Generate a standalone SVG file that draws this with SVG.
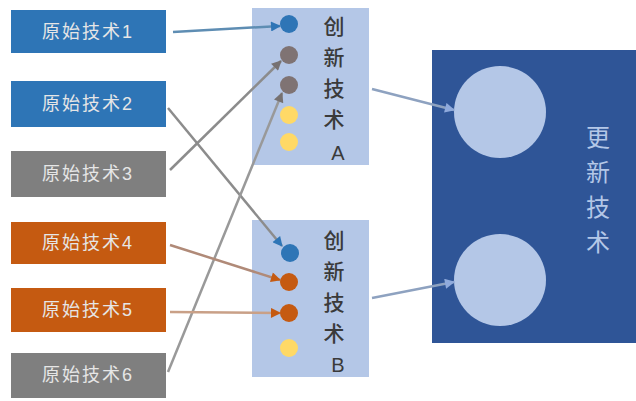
<svg xmlns="http://www.w3.org/2000/svg" width="636" height="401" viewBox="0 0 636 401">
<defs>
<style>
.blue{fill:#2E75B6}
.gray{fill:#7F7F7F}
.orange{fill:#C55A11}
.lbl{font-family:"Liberation Sans","Noto Sans CJK SC",sans-serif;font-size:18px;fill:#E6E6E6;text-anchor:middle;letter-spacing:2px}
.inno{fill:#B4C7E7}
.vt{font-family:"Noto Sans CJK SC","Liberation Sans",sans-serif;font-size:21px;font-weight:500;fill:#3A3A3A;text-anchor:middle}
.lat{font-family:"Liberation Sans",sans-serif;font-size:20px;fill:#3A3A3A;text-anchor:middle}
.vt2{font-family:"Noto Sans CJK SC","Liberation Sans",sans-serif;font-size:24px;fill:#B4C7E7;text-anchor:middle}
.ln{fill:none;stroke-width:2.5}
</style>
<marker id="mb" viewBox="0 0 10 10" refX="9" refY="5" markerWidth="5" markerHeight="4" orient="auto" markerUnits="strokeWidth"><path d="M0,0 L10,5 L0,10 Z" fill="#2E75B6"/></marker>
<marker id="mg" viewBox="0 0 10 10" refX="9" refY="5" markerWidth="5" markerHeight="4" orient="auto" markerUnits="strokeWidth"><path d="M0,0 L10,5 L0,10 Z" fill="#767171"/></marker>
<marker id="mo" viewBox="0 0 10 10" refX="9" refY="5" markerWidth="5" markerHeight="4" orient="auto" markerUnits="strokeWidth"><path d="M0,0 L10,5 L0,10 Z" fill="#C55A11"/></marker>
<marker id="ms" viewBox="0 0 10 10" refX="9" refY="5" markerWidth="5" markerHeight="4" orient="auto" markerUnits="strokeWidth"><path d="M0,0 L10,5 L0,10 Z" fill="#8FAADC"/></marker>
</defs>
<rect width="636" height="401" fill="#FFFFFF"/>

<g id="update">
<rect x="432" y="50" width="204" height="293" fill="#2F5597"/>
<circle cx="500" cy="112" r="46" fill="#B4C7E7"/>
<circle cx="500" cy="280" r="46" fill="#B4C7E7"/>
<text class="vt2" x="598" y="146">更</text>
<text class="vt2" x="598" y="181">新</text>
<text class="vt2" x="598" y="216">技</text>
<text class="vt2" x="598" y="251">术</text>
</g>

<g id="innoA">
<rect class="inno" x="252" y="8" width="117" height="157"/>
<circle cx="289" cy="24" r="9" fill="#2E75B6"/>
<circle cx="289" cy="55" r="9" fill="#7F7373"/>
<circle cx="289" cy="85" r="9" fill="#7F7373"/>
<circle cx="289" cy="115" r="9" fill="#FFD966"/>
<circle cx="289" cy="142" r="9" fill="#FFD966"/>
<text class="vt" x="334" y="34">创</text>
<text class="vt" x="334" y="65">新</text>
<text class="vt" x="334" y="96">技</text>
<text class="vt" x="334" y="127">术</text>
<text class="lat" x="338" y="160">A</text>
</g>

<g id="innoB">
<rect class="inno" x="252" y="220" width="117" height="157"/>
<circle cx="290" cy="253" r="9" fill="#2E75B6"/>
<circle cx="289" cy="282" r="9" fill="#C55A11"/>
<circle cx="289" cy="313" r="9" fill="#C55A11"/>
<circle cx="289" cy="348" r="9" fill="#FFD966"/>
<text class="vt" x="334" y="248">创</text>
<text class="vt" x="334" y="279">新</text>
<text class="vt" x="334" y="310">技</text>
<text class="vt" x="334" y="341">术</text>
<text class="lat" x="338" y="372">B</text>
</g>

<g id="src1"><rect class="blue" x="11" y="10" width="155" height="43"/><text class="lbl" x="88" y="38">原始技术1</text></g>
<g id="src2"><rect class="blue" x="11" y="81" width="155" height="46"/><text class="lbl" x="88" y="110">原始技术2</text></g>
<g id="src3"><rect class="gray" x="11" y="151" width="155" height="46"/><text class="lbl" x="88" y="180">原始技术3</text></g>
<g id="src4"><rect class="orange" x="11" y="222" width="155" height="42"/><text class="lbl" x="88" y="249">原始技术4</text></g>
<g id="src5"><rect class="orange" x="11" y="288" width="155" height="44"/><text class="lbl" x="88" y="316">原始技术5</text></g>
<g id="src6"><rect class="gray" x="11" y="353" width="155" height="45"/><text class="lbl" x="88" y="381">原始技术6</text></g>

<g id="connectors">
<line class="ln" x1="173" y1="32" x2="280" y2="26" stroke="#5E8DB3" marker-end="url(#mb)"/>
<line class="ln" x1="168" y1="108" x2="282" y2="246" stroke="#8C8C8C" marker-end="url(#mb)"/>
<line class="ln" x1="170" y1="170" x2="281" y2="61" stroke="#8C8C8C" marker-end="url(#mg)"/>
<line class="ln" x1="168" y1="372" x2="282" y2="93" stroke="#999999" stroke-width="2" marker-end="url(#mg)"/>
<line class="ln" x1="170" y1="245" x2="280" y2="280" stroke="#B08A78" marker-end="url(#mo)"/>
<line class="ln" x1="170" y1="312" x2="280" y2="313" stroke="#C9A087" marker-end="url(#mo)"/>
<line class="ln" x1="372" y1="89" x2="454" y2="110" stroke="#8EA2C0" marker-end="url(#ms)"/>
<line class="ln" x1="372" y1="298" x2="454" y2="282" stroke="#8EA2C0" marker-end="url(#ms)"/>
</g>
</svg>
